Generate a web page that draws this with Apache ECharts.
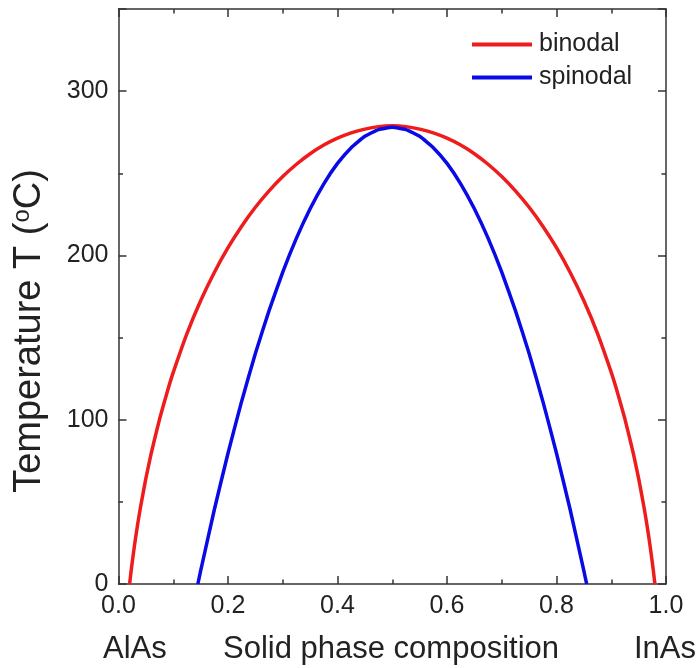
<!DOCTYPE html>
<html>
<head>
<meta charset="utf-8">
<script src="https://cdn.jsdelivr.net/npm/echarts@6/dist/echarts.min.js"></script>
<style>
  html, body { margin: 0; padding: 0; background: #fff; }
  #chart { width: 700px; height: 668px; }
</style>
</head>
<body>
<div id="chart"></div>
<script>
// values (composition x, temperature in °C)
const binodalX = [0.0203, 0.0225, 0.025, 0.03, 0.035, 0.04, 0.05, 0.06, 0.075, 0.09, 0.10, 0.125, 0.15, 0.175, 0.20,
  0.225, 0.25, 0.275, 0.30, 0.325, 0.35, 0.375, 0.40, 0.425, 0.45, 0.475, 0.50,
  0.525, 0.55, 0.575, 0.60, 0.625, 0.65, 0.675, 0.70, 0.725, 0.75, 0.775, 0.80,
  0.825, 0.85, 0.875, 0.90, 0.91, 0.925, 0.94, 0.95, 0.96, 0.965, 0.97, 0.975, 0.9775, 0.9797]
const binodalT = [0, 6.4, 13.1, 25.4, 36.4, 46.4, 64.3, 79.9, 100.4, 118.1, 128.8, 152.4, 172.4, 189.6, 204.7,
  217.8, 229.3, 239.3, 248.0, 255.5, 261.9, 267.2, 271.4, 274.6, 276.9, 278.4, 278.9,
  278.4, 276.9, 274.6, 271.4, 267.2, 261.9, 255.5, 248.0, 239.3, 229.3, 217.8, 204.7,
  189.6, 172.4, 152.4, 128.8, 118.1, 100.4, 79.9, 64.3, 46.4, 36.4, 25.4, 13.1, 6.4, 0]

const spinodalX = [0.1449, 0.15, 0.175, 0.20, 0.225, 0.25, 0.275, 0.30, 0.325, 0.35, 0.375, 0.40, 0.425, 0.45, 0.475, 0.50,
  0.525, 0.55, 0.575, 0.60, 0.625, 0.65, 0.675, 0.70, 0.725, 0.75, 0.775, 0.80, 0.825, 0.85, 0.8551]
const spinodalT = [0, 8.0, 45.2, 79.6, 111.3, 140.3, 166.4, 189.8, 210.5, 228.4, 243.6, 256.0, 265.6, 272.5, 276.6, 278.0,
  276.6, 272.5, 265.6, 256.0, 243.6, 228.4, 210.5, 189.8, 166.4, 140.3, 111.3, 79.6, 45.2, 8.0, 0]

const seriesNames = ['binodal', 'spinodal']
const seriesColors = ['#ee1c1c', '#0a0ae6']

const font = "'Liberation Sans', Arial, sans-serif"
const axisColor = '#333'
const textColor = '#222'

const chart = echarts.init(document.getElementById('chart'))

function pairs(xs, ys) {
  return xs.map((x, i) => [x, ys[i]])
}

const baseAxis = {
  axisLine: { show: true, onZero: false, lineStyle: { color: axisColor, width: 1.5 } },
  axisTick: { show: true, inside: true, length: 8, lineStyle: { color: axisColor, width: 1.5 } },
  minorTick: { show: true, splitNumber: 2, length: 4.5, lineStyle: { color: axisColor, width: 1.5 } },
  splitLine: { show: false }
}

const option = {
  animation: false,
  textStyle: { fontFamily: font },
  grid: { left: 118.5, right: 34, top: 9, bottom: 84 },
  legend: {
    data: seriesNames,
    orient: 'vertical',
    left: 467,
    top: 27,
    itemWidth: 60,
    itemHeight: 4,
    itemGap: 8,
    icon: 'rect',
    textStyle: { fontSize: 25, color: textColor, fontFamily: font, padding: [0, 0, 0, 2] }
  },
  xAxis: [
    Object.assign({}, baseAxis, {
      type: 'value', min: 0, max: 1, interval: 0.2, position: 'bottom',
      axisLabel: { fontSize: 25, color: textColor, margin: 10, formatter: v => v.toFixed(1) }
    }),
    Object.assign({}, baseAxis, {
      type: 'value', min: 0, max: 1, interval: 0.2, position: 'top',
      axisLabel: { show: false }
    })
  ],
  yAxis: [
    Object.assign({}, baseAxis, {
      type: 'value', min: 0, max: 350, interval: 100, position: 'left',
      axisLabel: { fontSize: 25, color: textColor, margin: 10, showMaxLabel: false }
    }),
    Object.assign({}, baseAxis, {
      type: 'value', min: 0, max: 350, interval: 100, position: 'right',
      axisLabel: { show: false }
    })
  ],
  graphic: [
    {
      type: 'text', x: 30, y: 331, rotation: Math.PI / 2,
      style: {
        text: '{a|Temperature T (}{s|o}{a|C)}',
        align: 'center', verticalAlign: 'middle',
        fontFamily: font,
        rich: {
          a: { fontSize: 38, fill: textColor, fontFamily: font },
          s: { fontSize: 24, fill: textColor, fontFamily: font, padding: [0, 0, 15, 0] }
        }
      }
    },
    { type: 'text', left: 103, top: 634, style: { text: 'AlAs', fontSize: 31, fill: textColor, fontFamily: font } },
    { type: 'text', left: 223, top: 634, style: { text: 'Solid phase composition', fontSize: 31, fill: textColor, fontFamily: font } },
    { type: 'text', left: 634, top: 634, style: { text: 'InAs', fontSize: 31, fill: textColor, fontFamily: font } }
  ],
  series: [
    {
      name: seriesNames[0], type: 'line', data: pairs(binodalX, binodalT),
      smooth: 0.15, showSymbol: false, symbol: 'none',
      lineStyle: { color: seriesColors[0], width: 3.5 }, itemStyle: { color: seriesColors[0] }
    },
    {
      name: seriesNames[1], type: 'line', data: pairs(spinodalX, spinodalT),
      smooth: 0.15, showSymbol: false, symbol: 'none',
      lineStyle: { color: seriesColors[1], width: 3.5 }, itemStyle: { color: seriesColors[1] }
    }
  ]
}

chart.setOption(option)
</script>
</body>
</html>
